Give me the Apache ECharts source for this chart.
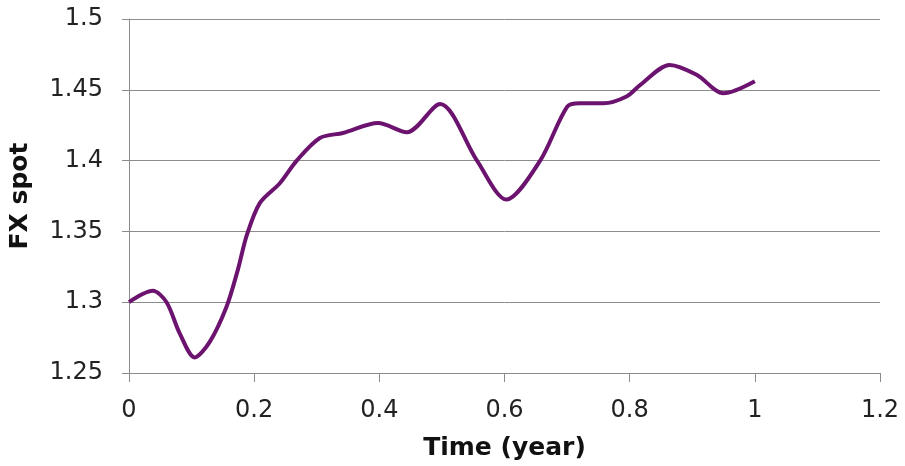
<!DOCTYPE html>
<html>
<head>
<meta charset="utf-8">
<script src="https://cdn.jsdelivr.net/npm/echarts@6/dist/echarts.min.js"></script>
<style>
  html, body { margin: 0; padding: 0; background: #fff; }
  #chart { width: 905px; height: 466px; }
</style>
</head>
<body>
<div id="chart"></div>
<script>
// Simulated FX spot path over one year (time in years, spot rate)
const timeYears = [0, 0.038, 0.06, 0.081, 0.105, 0.129, 0.156, 0.174, 0.188, 0.209,
                   0.241, 0.268, 0.305, 0.342, 0.398, 0.444, 0.497, 0.556, 0.603,
                   0.657, 0.70, 0.72, 0.758, 0.795, 0.817, 0.864, 0.907, 0.950, 1.0];
const fxSpot = [1.300, 1.308, 1.300, 1.278, 1.261, 1.272, 1.297, 1.323, 1.347, 1.370,
                1.384, 1.400, 1.416, 1.4195, 1.4265, 1.420, 1.440, 1.400, 1.3725,
                1.400, 1.438, 1.4405, 1.4405, 1.4453, 1.4535, 1.4676, 1.4606, 1.4475, 1.456];

const points = timeYears.map((t, i) => [t, fxSpot[i]]);

const labelFont = { fontFamily: 'DejaVu Sans', fontSize: 24, color: '#222' };
const nameFont = { fontFamily: 'DejaVu Sans', fontSize: 25, fontWeight: 'bold', color: '#111' };

const chart = echarts.init(document.getElementById('chart'), null, { renderer: 'canvas' });
chart.setOption({
  animation: false,
  backgroundColor: '#ffffff',
  grid: { left: 129, right: 25, top: 19, bottom: 93, containLabel: false },
  xAxis: {
    type: 'value',
    min: 0, max: 1.2, interval: 0.2,
    name: 'Time (year)',
    nameLocation: 'middle',
    nameGap: 63,
    nameTextStyle: nameFont,
    axisLine: { show: true, lineStyle: { color: '#8c8c8c', width: 1 } },
    axisTick: { show: true, length: 9, lineStyle: { color: '#8c8c8c' } },
    axisLabel: Object.assign({ margin: 26, formatter: v => String(+v.toFixed(1)) }, labelFont),
    splitLine: { show: false }
  },
  yAxis: {
    type: 'value',
    min: 1.25, max: 1.5, interval: 0.05,
    name: 'FX spot',
    nameLocation: 'middle',
    nameGap: 96,
    nameTextStyle: nameFont,
    axisLine: { show: true, lineStyle: { color: '#8c8c8c', width: 1 } },
    axisTick: { show: true, length: 7, lineStyle: { color: '#8c8c8c' } },
    axisLabel: Object.assign({ margin: 26, formatter: v => String(+v.toFixed(2)) }, labelFont),
    splitLine: { show: true, lineStyle: { color: '#8c8c8c', width: 1 } }
  },
  series: [{
    type: 'line',
    data: points,
    smooth: 0.3,
    showSymbol: false,
    lineStyle: { color: '#6b136e', width: 4 },
    z: 3
  }]
});
</script>
</body>
</html>
